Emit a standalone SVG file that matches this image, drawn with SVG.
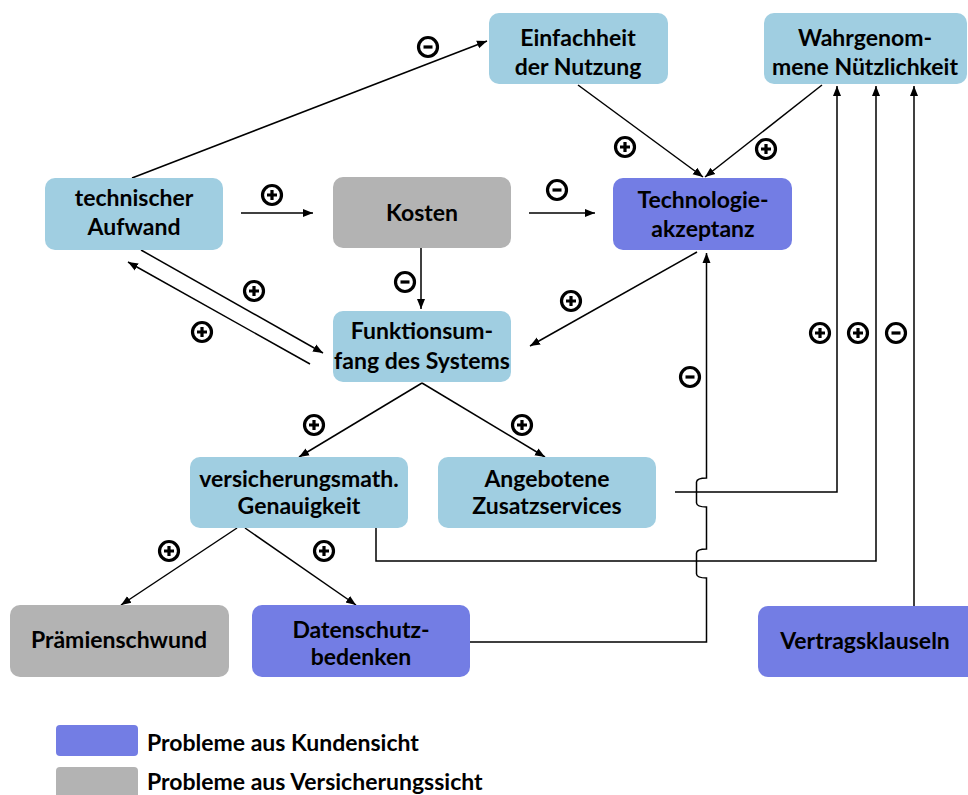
<svg xmlns="http://www.w3.org/2000/svg" width="968" height="795" viewBox="0 0 968 795">
<style>
.n{stroke:none}
.lb{fill:#a0cee1}
.pu{fill:#737de4}
.gr{fill:#b3b3b3}
text{font-family:Lato,"Open Sans","Liberation Sans",sans-serif;font-weight:bold;font-size:23px;fill:#000;text-anchor:middle}
.lg{text-anchor:start}
.c{fill:none;stroke:#000;stroke-width:1.5}
.sg{fill:none;stroke:#000;stroke-width:3.2}
</style>
<defs>
<marker id="ah" viewBox="0 0 10 10" refX="10" refY="5" markerWidth="10" markerHeight="10" markerUnits="userSpaceOnUse" orient="auto">
<path d="M0,1 L10,5 L0,9 Z" fill="#000"/>
</marker>
<g id="plus"><circle class="sg" cx="0" cy="0" r="9.5"/><path class="sg" d="M-5,0 H5 M0,-5 V5" stroke-width="3"/></g>
<g id="minus"><circle class="sg" cx="0" cy="0" r="9.5"/><path class="sg" d="M-4.5,0 H4.5" stroke-width="3"/></g>
</defs>

<g id="connectors">
<path class="c" d="M132,178 L487,41" marker-end="url(#ah)"/>
<path class="c" d="M241,213 L313,213" marker-end="url(#ah)"/>
<path class="c" d="M529,213 L595,213" marker-end="url(#ah)"/>
<path class="c" d="M421,248 L421,309" marker-end="url(#ah)"/>
<path class="c" d="M578,85 L703,177" marker-end="url(#ah)"/>
<path class="c" d="M822,85 L705,177" marker-end="url(#ah)"/>
<path class="c" d="M141,250 L323,353" marker-end="url(#ah)"/>
<path class="c" d="M310,364 L128,262" marker-end="url(#ah)"/>
<path class="c" d="M697,252 L530,346" marker-end="url(#ah)"/>
<path class="c" d="M422,383 L299,457" marker-end="url(#ah)"/>
<path class="c" d="M422,383 L545,457" marker-end="url(#ah)"/>
<path class="c" d="M237,528 L121,605" marker-end="url(#ah)"/>
<path class="c" d="M245,528 L356,605" marker-end="url(#ah)"/>
<path class="c" d="M470,642 H706.5 V578 Q697,578 696.5,574 V553 Q697,549 706.5,549 V507 Q697,507 696.5,503 V482 Q697,478 706.5,478 V253" marker-end="url(#ah)"/>
<path class="c" d="M675,492 H837 V86" marker-end="url(#ah)"/>
<path class="c" d="M376,528 V561 H876 V86" marker-end="url(#ah)"/>
<path class="c" d="M914,606 V86" marker-end="url(#ah)"/>
</g>

<g id="signs">
<use href="#minus" x="428" y="47"/>
<use href="#plus" x="272" y="195"/>
<use href="#minus" x="557" y="190"/>
<use href="#minus" x="405" y="282"/>
<use href="#plus" x="625" y="147"/>
<use href="#plus" x="766" y="149"/>
<use href="#plus" x="254" y="291"/>
<use href="#plus" x="202" y="332"/>
<use href="#plus" x="571" y="301"/>
<use href="#plus" x="314" y="425"/>
<use href="#plus" x="522" y="425"/>
<use href="#plus" x="169" y="551"/>
<use href="#plus" x="324" y="551"/>
<use href="#minus" x="690" y="377"/>
<use href="#plus" x="820" y="333"/>
<use href="#plus" x="858" y="333"/>
<use href="#minus" x="896" y="333"/>
</g>

<g id="einfachheit"><rect class="lb" x="489" y="13" width="179" height="71" rx="10"/><text x="578" y="46">Einfachheit</text><text x="578" y="75">der Nutzung</text></g>
<g id="wahrgenommen"><rect class="lb" x="764" y="13" width="203" height="71" rx="10"/><text x="865" y="46">Wahrgenom-</text><text x="865" y="75">mene Nützlichkeit</text></g>
<g id="aufwand"><rect class="lb" x="45" y="178" width="178" height="72" rx="10"/><text x="134" y="206">technischer</text><text x="134" y="235">Aufwand</text></g>
<g id="kosten"><rect class="gr" x="333" y="177" width="178" height="71" rx="10"/><text x="422" y="221">Kosten</text></g>
<g id="akzeptanz"><rect class="pu" x="613" y="178" width="179" height="72" rx="10"/><text x="703" y="208">Technologie-</text><text x="703" y="237">akzeptanz</text></g>
<g id="funktion"><rect class="lb" x="333" y="311" width="178" height="71" rx="10"/><text x="422" y="339">Funktionsum-</text><text x="422" y="369">fang des Systems</text></g>
<g id="genauigkeit"><rect class="lb" x="190" y="457" width="218" height="71" rx="10"/><text x="299" y="487">versicherungsmath.</text><text x="299" y="514">Genauigkeit</text></g>
<g id="zusatz"><rect class="lb" x="438" y="457" width="218" height="71" rx="10"/><text x="547" y="487">Angebotene</text><text x="547" y="514">Zusatzservices</text></g>
<g id="praemien"><rect class="gr" x="10" y="605" width="219" height="72" rx="10"/><text x="119" y="648">Prämienschwund</text></g>
<g id="datenschutz"><rect class="pu" x="252" y="605" width="218" height="72" rx="10"/><text x="361" y="638">Datenschutz-</text><text x="361" y="665">bedenken</text></g>
<g id="vertrag"><rect class="pu" x="758" y="606" width="220" height="71" rx="10"/><text x="865" y="649">Vertragsklauseln</text></g>

<g id="legend">
<rect class="pu" x="56" y="725" width="82" height="31" rx="4"/>
<text class="lg" x="147" y="751">Probleme aus Kundensicht</text>
<rect class="gr" x="56" y="767" width="82" height="40" rx="4"/>
<text class="lg" x="147" y="790">Probleme aus Versicherungssicht</text>
</g>
</svg>
